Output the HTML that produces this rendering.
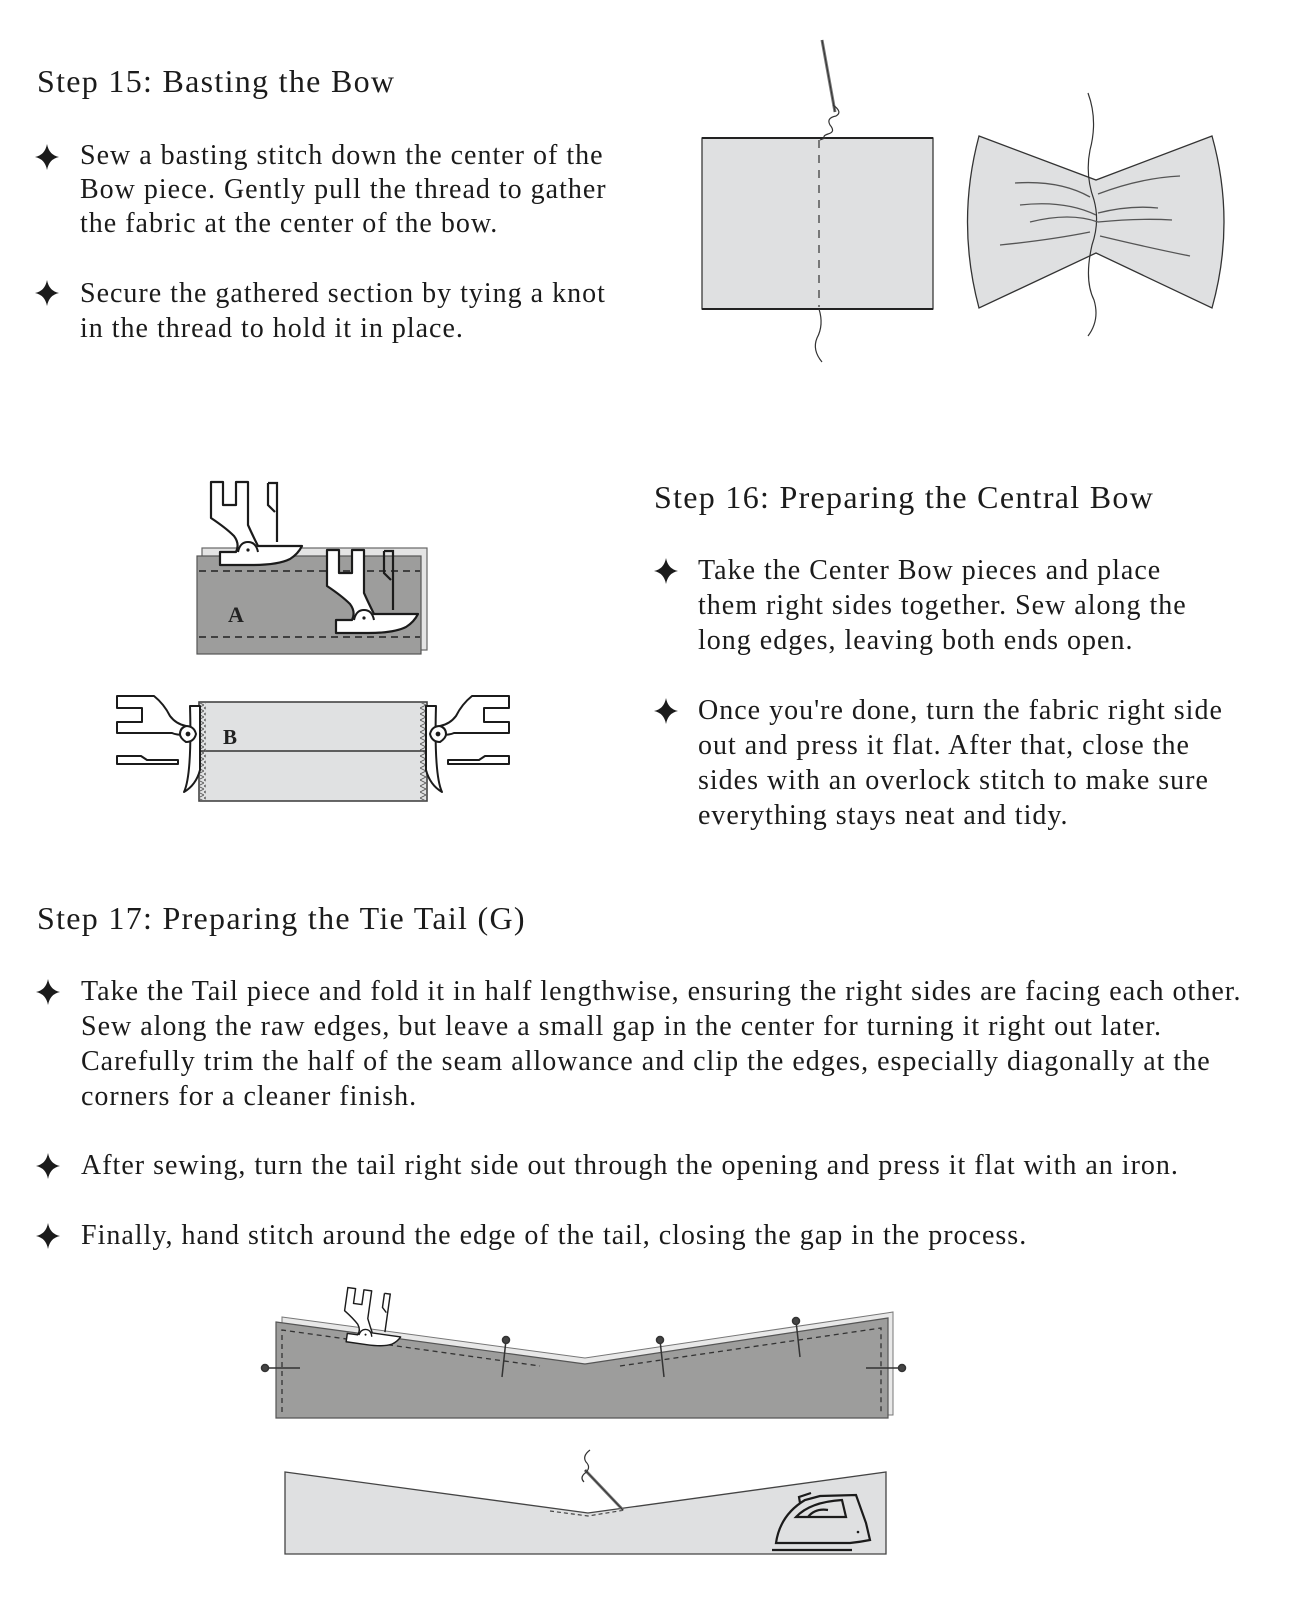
<!DOCTYPE html>
<html><head><meta charset="utf-8"><style>
html,body{margin:0;padding:0;background:#fff;}
body{width:1302px;height:1622px;position:relative;overflow:hidden;font-family:"Liberation Serif",serif;color:#1b1b1b;}
.t{position:absolute;white-space:nowrap;font-size:32px;line-height:40px;letter-spacing:1.3px;}
.b{position:absolute;white-space:nowrap;font-size:28px;letter-spacing:1px;}
svg{position:absolute;left:0;top:0;}
</style></head><body>
<div class="t" style="left:37px;top:61px">Step 15: Basting the Bow</div>
<div class="b" style="left:80px;top:139px;line-height:34px">Sew a basting stitch down the center of the<br>Bow piece. Gently pull the thread to gather<br>the fabric at the center of the bow.</div>
<div class="b" style="left:80px;top:276px;line-height:35px">Secure the gathered section by tying a knot<br>in the thread to hold it in place.</div>

<div class="t" style="left:654px;top:477px">Step 16: Preparing the Central Bow</div>
<div class="b" style="left:698px;top:553px;line-height:35px">Take the Center Bow pieces and place<br>them right sides together. Sew along the<br>long edges, leaving both ends open.</div>
<div class="b" style="left:698px;top:693px;line-height:35px">Once you're done, turn the fabric right side<br>out and press it flat. After that, close the<br>sides with an overlock stitch to make sure<br>everything stays neat and tidy.</div>

<div class="t" style="left:37px;top:898px">Step 17: Preparing the Tie Tail (G)</div>
<div class="b" style="left:81px;top:974px;line-height:35px">Take the Tail piece and fold it in half lengthwise, ensuring the right sides are facing each other.<br>Sew along the raw edges, but leave a small gap in the center for turning it right out later.<br>Carefully trim the half of the seam allowance and clip the edges, especially diagonally at the<br>corners for a cleaner finish.</div>
<div class="b" style="left:81px;top:1148px;line-height:35px">After sewing, turn the tail right side out through the opening and press it flat with an iron.</div>
<div class="b" style="left:81px;top:1218px;line-height:35px">Finally, hand stitch around the edge of the tail, closing the gap in the process.</div>

<svg width="1302" height="1622" viewBox="0 0 1302 1622">
<defs>
<path id="star" d="M0,-13 Q2,-2 12,0 Q2,2 0,13 Q-2,2 -12,0 Q-2,-2 0,-13Z" fill="#1b1b1b"/>
<g id="foot">
<path d="M31,12 H43 V35 H56 V12 H68 V55 Q72,64 78,76 H122 Q118,84 110,89 Q98,95 72,95 H40 V82 H56 Q60,74 54,66 Q46,58 31,48 Z" fill="#fff" stroke="#1b1b1b" stroke-width="2.2" stroke-linejoin="round"/>
<path d="M58,82 Q60,72 68,72 Q76,72 78,82" fill="#fff" stroke="#1b1b1b" stroke-width="2"/>
<circle cx="68" cy="80" r="1.6" fill="#1b1b1b"/>
<path d="M88,13 H97 V72 M88,13 V35 L95,42" fill="none" stroke="#1b1b1b" stroke-width="2.2"/>
</g>
<pattern id="zz" width="6" height="6" patternUnits="userSpaceOnUse"><path d="M0,0 L6,3 L0,6" fill="none" stroke="#555" stroke-width="0.8"/></pattern>
</defs>
<use href="#star" x="47" y="157"/>
<use href="#star" x="47" y="293"/>
<use href="#star" x="666" y="571"/>
<use href="#star" x="666" y="711"/>
<use href="#star" x="48" y="992"/>
<use href="#star" x="48" y="1166"/>
<use href="#star" x="48" y="1236"/>

<rect x="702" y="138" width="231" height="171" fill="#dfe0e1" stroke="#3a3a3a" stroke-width="1.3"/>
<line x1="702" y1="138" x2="933" y2="138" stroke="#222" stroke-width="2"/>
<line x1="702" y1="309" x2="933" y2="309" stroke="#222" stroke-width="2"/>
<line x1="819" y1="140" x2="819" y2="307" stroke="#333" stroke-width="1.2" stroke-dasharray="8,7"/>
<path d="M822,40 L835,112" stroke="#777" stroke-width="3" fill="none"/>
<path d="M822,40 L835,112" stroke="#333" stroke-width="1" fill="none"/>
<path d="M833,105 Q843,112 836,116 Q826,118 830,125 Q836,132 828,134 Q822,136 825,138 L820,140" fill="none" stroke="#333" stroke-width="1.2"/>
<path d="M819,309 Q824,325 817,338 Q812,350 822,362" fill="none" stroke="#333" stroke-width="1.2"/>
<path d="M979,136 L1096,180 L1212,136 Q1236,222 1212,308 L1096,253 L979,308 Q956,222 979,136Z" fill="#dfe0e1" stroke="#333" stroke-width="1.3"/>
<path d="M1088,93 Q1098,120 1090,150 Q1085,175 1094,200 Q1100,222 1092,245 Q1084,280 1094,300 Q1100,320 1088,336" fill="none" stroke="#333" stroke-width="1.2"/>
<g fill="none" stroke="#555" stroke-width="1.3">
<path d="M1015,183 Q1060,180 1090,197"/><path d="M1098,194 Q1140,178 1180,176"/>
<path d="M1020,205 Q1065,200 1096,215"/><path d="M1098,213 Q1130,205 1158,208"/>
<path d="M1030,222 Q1070,212 1098,222"/><path d="M1098,222 Q1140,218 1172,220"/>
<path d="M1000,245 Q1050,240 1090,232"/><path d="M1100,236 Q1150,248 1190,256"/>
</g>

<rect x="202" y="548" width="225" height="102" fill="#e4e4e4" stroke="#666" stroke-width="1.2"/>
<rect x="197" y="556" width="224" height="98" fill="#9d9d9c" stroke="#555" stroke-width="1.2"/>
<line x1="199" y1="571" x2="420" y2="571" stroke="#333" stroke-width="1.8" stroke-dasharray="7,5"/>
<line x1="199" y1="637" x2="420" y2="637" stroke="#333" stroke-width="1.8" stroke-dasharray="7,5"/>
<text x="228" y="622" font-family="Liberation Serif,serif" font-size="22" font-weight="bold" fill="#222">A</text>
<use href="#foot" transform="translate(180,470)"/>
<use href="#foot" transform="translate(296,538)"/>

<rect x="199" y="702" width="228" height="99" fill="#e0e1e2" stroke="#444" stroke-width="1.6"/>
<line x1="199" y1="751" x2="427" y2="751" stroke="#333" stroke-width="1.6"/>
<rect x="200" y="703" width="6" height="97" fill="url(#zz)"/>
<rect x="420" y="703" width="6" height="97" fill="url(#zz)"/>
<text x="223" y="744" font-family="Liberation Serif,serif" font-size="21" font-weight="bold" fill="#222">B</text>
<g id="lf" fill="#fff" stroke="#1b1b1b" stroke-width="2" stroke-linejoin="round">
<path d="M117,696 H154 Q164,704 170,716 Q176,724 186,726 L186,735 Q176,735 172,733 H117 V722 H142 V708 H117 Z"/>
<path d="M117,756 H141 L147,760 H178 V764 H117 Z"/>
<path d="M190,706 H200 V770 Q196,785 184,792 Q192,775 190,706 Z"/>
<path d="M186,726 Q194,726 196,734 Q194,742 186,742 Q180,738 180,734 Q180,728 186,726Z"/>
<circle cx="188" cy="734" r="1.4" fill="#1b1b1b"/>
</g>
<use href="#lf" transform="translate(626,0) scale(-1,1)"/>

<path d="M282,1317 L585,1358 L893,1312 L893,1415 L282,1415Z" fill="#e8e8e8" stroke="#777" stroke-width="1"/>
<path d="M276,1322 L585,1364 L888,1318 L888,1418 L276,1418Z" fill="#9d9d9c" stroke="#555" stroke-width="1.2"/>
<path d="M282,1412 V1330 L540,1366 M620,1366 L881,1328 V1412" fill="none" stroke="#333" stroke-width="1.3" stroke-dasharray="5,4"/>
<g stroke="#333" stroke-width="1.5" fill="#444">
<line x1="506" y1="1340" x2="502" y2="1377"/><circle cx="506" cy="1340" r="3.5"/>
<line x1="660" y1="1340" x2="664" y2="1377"/><circle cx="660" cy="1340" r="3.5"/>
<line x1="796" y1="1321" x2="800" y2="1357"/><circle cx="796" cy="1321" r="3.5"/>
<line x1="265" y1="1368" x2="300" y2="1368"/><circle cx="265" cy="1368" r="3.5"/>
<line x1="902" y1="1368" x2="866" y2="1368"/><circle cx="902" cy="1368" r="3.5"/>
</g>
<use href="#foot" transform="translate(329,1277) rotate(8,0,0) scale(0.65)"/>

<path d="M285,1472 L588,1513 L886,1472 L886,1554 L285,1554Z" fill="#dfe0e1" stroke="#444" stroke-width="1.3"/>
<path d="M550,1511 L588,1516 L625,1510" fill="none" stroke="#444" stroke-width="1.2" stroke-dasharray="4,3"/>
<path d="M585,1470 L623,1510" stroke="#777" stroke-width="3"/>
<path d="M585,1470 L623,1510" stroke="#333" stroke-width="1"/>
<path d="M590,1450 Q582,1456 586,1462 Q592,1468 584,1474 Q580,1478 584,1482" fill="none" stroke="#333" stroke-width="1.2"/>
<g fill="none" stroke="#1b1b1b" stroke-width="2.2">
<path d="M776,1543 Q780,1515 805,1500 L820,1496 L856,1495 L866,1523 L870,1540 Q860,1542 850,1543 Z"/>
<path d="M796,1517 Q810,1502 842,1500 L846,1517 Z"/>
<path d="M808,1517 Q815,1508 828,1510"/>
<path d="M800,1503 L799,1497 L811,1493"/>
<line x1="772" y1="1550" x2="852" y2="1550"/>
</g>
<circle cx="858" cy="1532" r="1.3" fill="#1b1b1b"/>
</svg>
</body></html>
